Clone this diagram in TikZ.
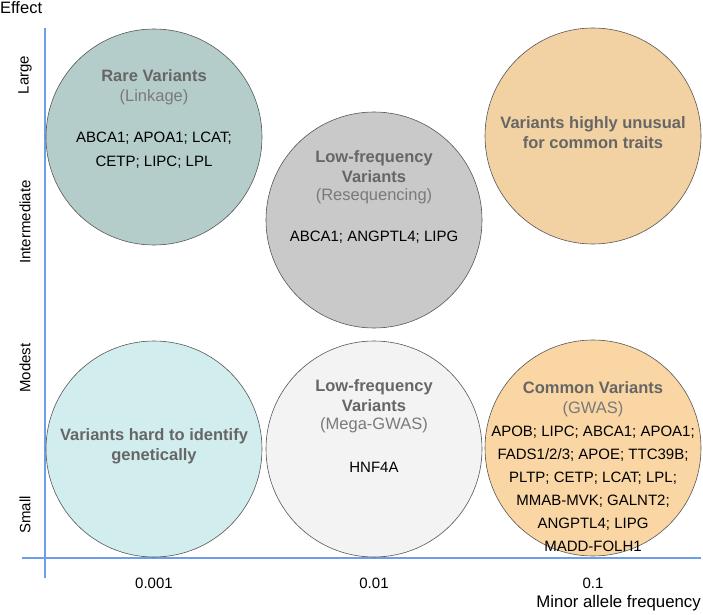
\documentclass[tikz,border=0pt]{standalone}
\usepackage{fontspec}
\setmainfont{Liberation Sans}
\usepackage{tikz}
\usetikzlibrary{calc}
\definecolor{axisblue}{HTML}{6D9EEB}
\definecolor{rim}{HTML}{555555}
\definecolor{headgrey}{HTML}{666666}
\definecolor{subgrey}{HTML}{7A7A7A}
\definecolor{rarefill}{HTML}{B4CDCB}
\definecolor{seqfill}{HTML}{C9C9C9}
\definecolor{oddfill}{HTML}{F2D2A2}
\definecolor{hardfill}{HTML}{D2EDED}
\definecolor{megafill}{HTML}{F3F3F3}
\definecolor{gwasfill}{HTML}{F9D6A4}

\begin{document}
\begin{tikzpicture}[x=1pt,y=1pt,
  blob/.style={circle,draw=rim,line width=0.6pt,minimum size=216pt,inner sep=0pt},
  ttl/.style={font=\fontsize{16.5}{20}\selectfont\bfseries,text=headgrey,align=center,inner sep=0pt},
  sub/.style={font=\fontsize{16.5}{20}\selectfont,text=subgrey,inner sep=0pt},
  genes/.style={font=\fontsize{15}{23}\selectfont,align=center,inner sep=0pt},
  lab/.style={font=\fontsize{15}{18}\selectfont,inner sep=0pt},
  axisline/.style={draw=axisblue,line width=2.4pt}]
  \useasboundingbox (0,0) rectangle (703,614);
  \coordinate (ytop) at (45,586);
  \coordinate (ybot) at (45,36);
  \coordinate (xleft) at (22,56);
  \coordinate (xright) at (701,56);
  \coordinate (tickrow) at (0,31);
  \draw[axisline] (ytop) -- (ybot);
  \draw[axisline] (xleft) -- (xright);
  \node[blob,fill=rarefill] (rare) at (154,477) {};
  \node[blob,fill=seqfill] (reseq) at (374,394) {};
  \node[blob,fill=oddfill] (odd) at (593,478) {};
  \node[blob,fill=hardfill] (hard) at (154,165) {};
  \node[blob,fill=megafill] (mega) at (374,165) {};
  \node[blob,fill=gwasfill] (gwas) at (593,166) {};
  \node[ttl] (rareT) at ($(rare)+(0,61)$) {Rare Variants};
  \node[sub] (rareS) at ($(rare)+(0,40)$) {(Linkage)};
  \node[genes,font=\fontsize{15}{24}\selectfont] (rareG) at ($(rare)+(0,-13)$) {ABCA1; APOA1; LCAT;\\CETP; LIPC; LPL};
  \node[ttl] (reseqT) at ($(reseq)+(0,53)$) {Low-frequency\\Variants};
  \node[sub] (reseqS) at ($(reseq)+(0,24)$) {(Resequencing)};
  \node[genes] (reseqG) at ($(reseq)+(0,-17)$) {ABCA1; ANGPTL4; LIPG};
  \node[ttl] (oddT) at ($(odd)+(0,3)$) {Variants highly unusual\\for common traits};
  \node[ttl] (hardT) at ($(hard)+(0,3)$) {Variants hard to identify\\genetically};
  \node[ttl] (megaT) at ($(mega)+(0,53)$) {Low-frequency\\Variants};
  \node[sub] (megaS) at ($(mega)+(0,24)$) {(Mega-GWAS)};
  \node[genes] (megaG) at ($(mega)+(0,-18)$) {HNF4A};
  \node[ttl] (gwasT) at ($(gwas)+(0,60)$) {Common Variants};
  \node[sub] (gwasS) at ($(gwas)+(0,39)$) {(GWAS)};
  \node[genes] (gwasG) at ($(gwas)+(0,-41)$) {APOB; LIPC; ABCA1; APOA1;\\FADS1/2/3; APOE; TTC39B;\\PLTP; CETP; LCAT; LPL;\\MMAB-MVK; GALNT2;\\ANGPTL4; LIPG\\MADD-FOLH1};
  \node[lab,font=\fontsize{16.5}{19}\selectfont,anchor=west] (effect) at (0,606) {Effect};
  \node[lab,rotate=90] (large) at (25,539) {Large};
  \node[lab,rotate=90] (inter) at (25,392) {Intermediate};
  \node[lab,rotate=90] (modest) at (25,246) {Modest};
  \node[lab,rotate=90] (small) at (25,99) {Small};
  \node[lab] (t1) at (hard |- tickrow) {0.001};
  \node[lab] (t2) at (mega |- tickrow) {0.01};
  \node[lab] (t3) at (gwas |- tickrow) {0.1};
  \node[lab,font=\fontsize{16.8}{19}\selectfont,anchor=east] (maf) at (701,11) {Minor allele frequency};
\end{tikzpicture}
\end{document}
